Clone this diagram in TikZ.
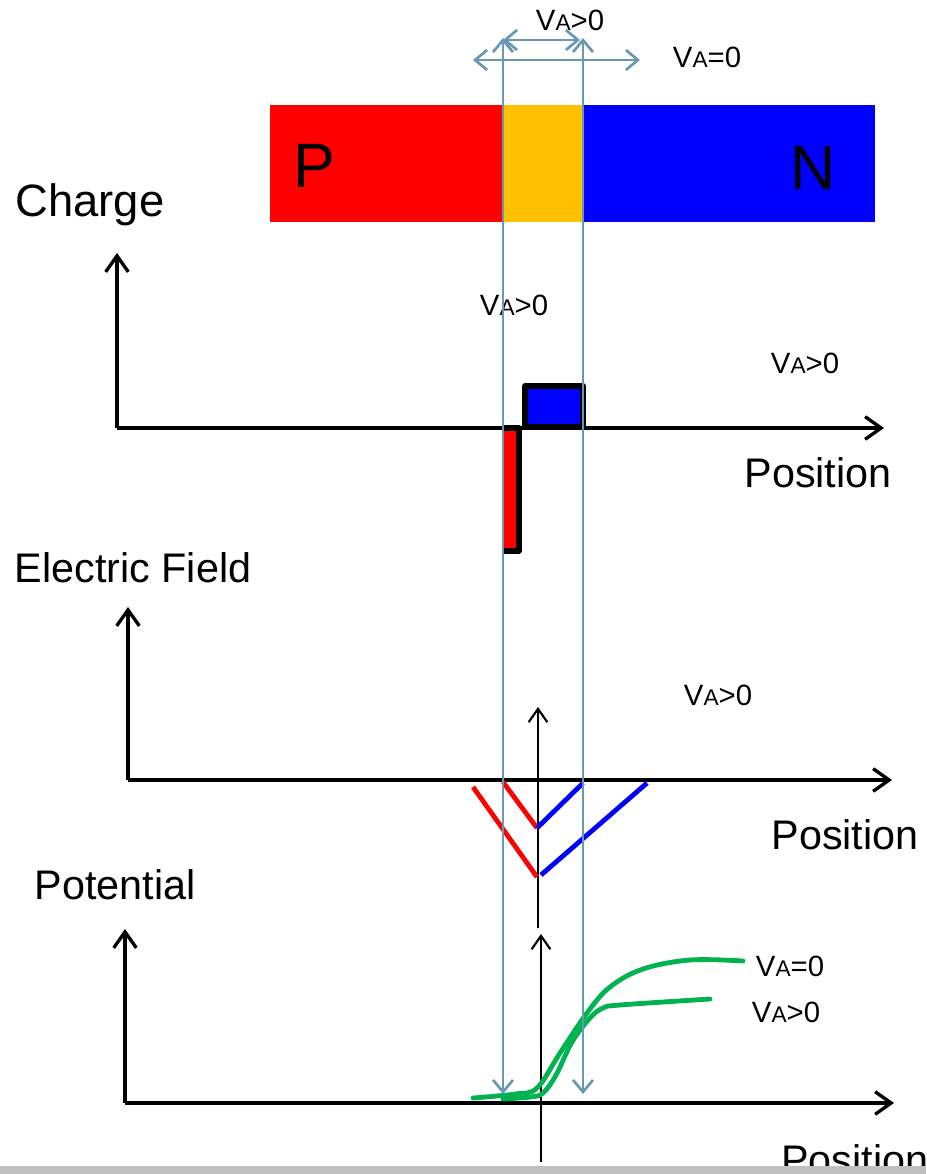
\documentclass[tikz,border=0pt]{standalone}
\usepackage{fontspec}
\setmainfont{Liberation Sans}
\usetikzlibrary{arrows.meta}
\definecolor{guide}{RGB}{104,152,178}
\definecolor{pred}{RGB}{255,0,0}
\definecolor{nblue}{RGB}{0,0,255}
\definecolor{dorange}{RGB}{255,192,0}
\definecolor{pgreen}{RGB}{0,178,80}
\newcommand{\VA}[1]{V{\fontsize{17}{17}\selectfont A}#1}
\tikzset{
  guideline/.style={draw=guide, line width=2pt, arrows={Straight Barb[length=9pt,width=15pt,line width=2pt]-Straight Barb[length=9pt,width=15pt,line width=2pt]}},
  axis/.style={draw=black, line width=2.5pt, -{Straight Barb[length=12pt,width=17pt,line width=2.5pt]}},
  thinaxis/.style={draw=black, line width=1.6pt, -{Straight Barb[length=10pt,width=14pt,line width=1.6pt]}},
  biglabel/.style={font=\fontsize{31}{31}\selectfont, inner sep=0pt},
  valabel/.style={font=\fontsize{22}{22}\selectfont, inner sep=0pt},
  field/.style={line width=3.6pt},
  pot/.style={draw=pgreen, line width=3.6pt, line cap=round},
  chargebox/.style={line width=4.2pt, line join=round},
}
\begin{document}
\begin{tikzpicture}[x=0.75pt,y=-0.75pt]
\useasboundingbox (0,0) rectangle (926,1174);
\fill[white] (0,0) rectangle (926,1174);

% PN bar
\fill[pred] (270,105) rectangle (503,222);
\fill[dorange] (503,105) rectangle (583,222);
\fill[nblue] (583,105) rectangle (875,222);
\node[font=\fontsize{47}{47}\selectfont, inner sep=0pt] (P) at (314,166) {P};
\node[font=\fontsize{47}{47}\selectfont, inner sep=0pt] (N) at (813,168) {N};

% top labels
\node[valabel] (vatop) at (570,20) {\VA{>0}};
\node[valabel] (vazero) at (707,57) {\VA{=0}};

% Charge panel
\node[biglabel, font=\fontsize{34}{34}\selectfont] (charge) at (90,205) {Charge};
\coordinate (co) at (117,428);
\coordinate (cy) at (117,253);
\coordinate (cx) at (884,428);
\draw[axis] (co) -- (cy);
\draw[axis] (co) -- (cx);
\node[biglabel] (pos1) at (818,473) {Position};
\node[valabel] (va1) at (514,305) {\VA{>0}};
\node[valabel] (va2) at (805,363) {\VA{>0}};
\fill[pred] (503,430) rectangle (519,551);
\draw[chargebox] (503,551) -- (519,551) -- (519,428) -- (503,428);
\draw[chargebox, fill=nblue] (525,386) rectangle (583,427);

% Electric field panel
\node[biglabel] (efield) at (133,568) {Electric Field};
\coordinate (eo) at (128,780);
\coordinate (ey) at (128,607);
\coordinate (ex) at (892,780);
\draw[axis] (eo) -- (ey);
\draw[axis] (eo) -- (ex);
\node[biglabel] (pos2) at (845,835) {Position};
\node[valabel] (va3) at (718,695) {\VA{>0}};
\coordinate (ez0) at (538,928);
\coordinate (ez1) at (538,707);
\draw[thinaxis] (ez0) -- (ez1);
\draw[field, pred] (473,787) -- (537,877);
\draw[field, pred] (503,782) -- (537,828);
\draw[field, nblue] (537,828) -- (583,783);
\draw[field, nblue] (541,875) -- (647,783);

% Potential panel
\node[biglabel] (potential) at (115,885) {Potential};
\coordinate (po) at (125,1103);
\coordinate (py) at (125,929);
\coordinate (px) at (894,1103);
\draw[axis] (po) -- (py);
\draw[axis] (po) -- (px);
\node[biglabel, anchor=west] (pos3) at (781,1160) {Position};
\coordinate (pz0) at (541,1162);
\coordinate (pz1) at (541,934);
\draw[thinaxis] (pz0) -- (pz1);
\draw[pot] plot[smooth, tension=0.6] coordinates {(473,1098) (515,1094) (537,1088) (560,1053) (587,1013) (610,987) (643,969) (690,960) (743,961)};
\draw[pot] plot[smooth, tension=0.6] coordinates {(503,1099) (530,1097) (543,1093) (556,1075) (572,1042) (590,1018) (603,1008) (620,1005) (710,999)};
\node[valabel] (va4) at (790,966) {\VA{=0}};
\node[valabel] (va5) at (786,1012) {\VA{>0}};

% bottom grey bar (covers the lower edge, as in the reference)
\fill[gray!50] (0,1166) rectangle (926,1174);

% guide lines
\coordinate (gl0) at (503,38);
\coordinate (gl1) at (503,1094);
\coordinate (gr0) at (583,38);
\coordinate (gr1) at (583,1094);
\draw[guideline] (gl1) -- (gl0);
\draw[guideline] (gr1) -- (gr0);
\coordinate (h1a) at (503,40);
\coordinate (h1b) at (580,40);
\coordinate (h2a) at (473,60);
\coordinate (h2b) at (640,60);
\draw[guideline] (h1a) -- (h1b);
\draw[guideline] (h2a) -- (h2b);
\end{tikzpicture}
\end{document}
